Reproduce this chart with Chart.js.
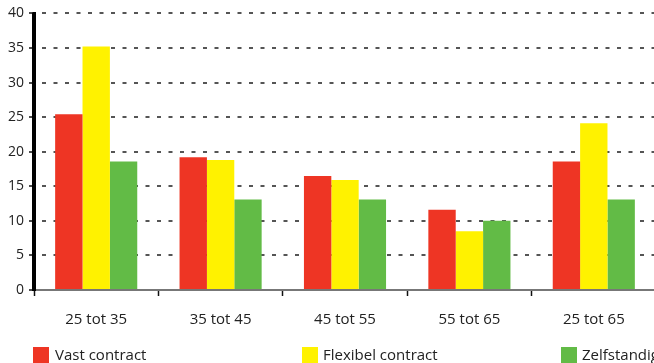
<!DOCTYPE html>
<html lang="nl">
<head>
    <meta charset="UTF-8">
    <title>Contract per leeftijd</title>
    <script src="https://cdn.jsdelivr.net/npm/chart.js"></script>
    <style>
        html, body { margin: 0; padding: 0; background: #fff; overflow: hidden; }
        .wrap { position: relative; width: 654px; height: 363px; overflow: hidden; }
        canvas { position: absolute; left: 0; top: 0; }
        .legend-item { position: absolute; top: 347px; height: 16px; font: 15px "Open Sans", sans-serif; color: #222; white-space: nowrap; }
        .legend-item span.box { position: absolute; left: 0; top: 0; width: 16px; height: 16px; }
        .legend-item span.txt { position: absolute; top: -3px; line-height: 20px; }
    </style>
</head>
<body>
<div class="wrap" id="wrap">
    <canvas id="chart" width="660" height="363" style="width:660px;height:363px"></canvas>
</div>
<script>
    // data
    var categories = ['25 tot 35', '35 tot 45', '45 tot 55', '55 tot 65', '25 tot 65'];
    var vastContract = [25.4, 19.2, 16.5, 11.6, 18.6];
    var flexibelContract = [35.2, 18.8, 15.9, 8.5, 24.1];
    var zelfstandig = [18.6, 13.1, 13.1, 10.0, 13.1];
    var seriesLabels = ['Vast contract', 'Flexibel contract', 'Zelfstandig'];
    var seriesColors = ['#EE3524', '#FFF200', '#62BB46'];
    var yTicks = [0, 5, 10, 15, 20, 25, 30, 35, 40];

    // y axis line drawn solid and black on top of the dashed grid
    var yAxisLine = {
        id: 'yAxisLine',
        afterDatasetsDraw: function (c) {
            var s = c.scales.y, g = c.ctx;
            g.save();
            g.setLineDash([]);
            g.strokeStyle = '#000';
            g.lineWidth = 3;
            g.beginPath();
            g.moveTo(s.right - 0.5, s.top - 1);
            g.lineTo(s.right - 0.5, s.bottom + 1);
            g.stroke();
            g.restore();
        }
    };

    var ctx = document.getElementById('chart').getContext('2d');
    var chart = new Chart(ctx, {
        type: 'bar',
        data: {
            labels: categories,
            datasets: [vastContract, flexibelContract, zelfstandig].map(function (d, i) {
                return {
                    label: seriesLabels[i],
                    data: d,
                    backgroundColor: seriesColors[i],
                    borderWidth: 0,
                    categoryPercentage: 0.66,
                    barPercentage: 1.0
                };
            })
        },
        options: {
            responsive: false,
            animation: false,
            layout: { padding: { top: 13, left: 0, right: 4, bottom: 0 } },
            plugins: { legend: { display: false }, tooltip: { enabled: false } },
            scales: {
                x: {
                    afterFit: function (s) { s.height = 73; },
                    grid: {
                        offset: true,
                        drawOnChartArea: false,
                        tickLength: 6,
                        tickColor: '#111',
                        tickWidth: 1.5
                    },
                    border: { color: '#777', width: 2 },
                    ticks: {
                        color: '#222',
                        font: { family: 'Open Sans', size: 15 },
                        padding: 15
                    }
                },
                y: {
                    min: 0,
                    max: 40,
                    afterFit: function (s) { s.width = 34; },
                    afterBuildTicks: function (s) {
                        s.ticks = yTicks.map(function (v) { return { value: v }; });
                    },
                    grid: {
                        color: function (c) { return c.tick && c.tick.value === 0 ? 'rgba(0,0,0,0)' : '#555'; },
                        lineWidth: 2,
                        tickLength: 5,
                        tickColor: '#111',
                        tickWidth: 1.5
                    },
                    border: { color: '#000', width: 3, dash: [4, 7.5], dashOffset: -6 },
                    ticks: {
                        color: '#222',
                        font: { family: 'Open Sans', size: 14 },
                        padding: 5
                    }
                }
            }
        },
        plugins: [yAxisLine]
    });

    // legend placed like the reference, built from the datasets
    var legendX = [33, 302, 561];
    var wrap = document.getElementById('wrap');
    chart.data.datasets.forEach(function (ds, i) {
        var item = document.createElement('div');
        item.className = 'legend-item';
        item.style.left = legendX[i] + 'px';
        item.innerHTML = '<span class="box" style="background:' + ds.backgroundColor + '"></span>' +
            '<span class="txt" style="left:' + (i === 0 ? 22 : 21) + 'px">' + ds.label + '</span>';
        wrap.appendChild(item);
    });
</script>
</body>
</html>
